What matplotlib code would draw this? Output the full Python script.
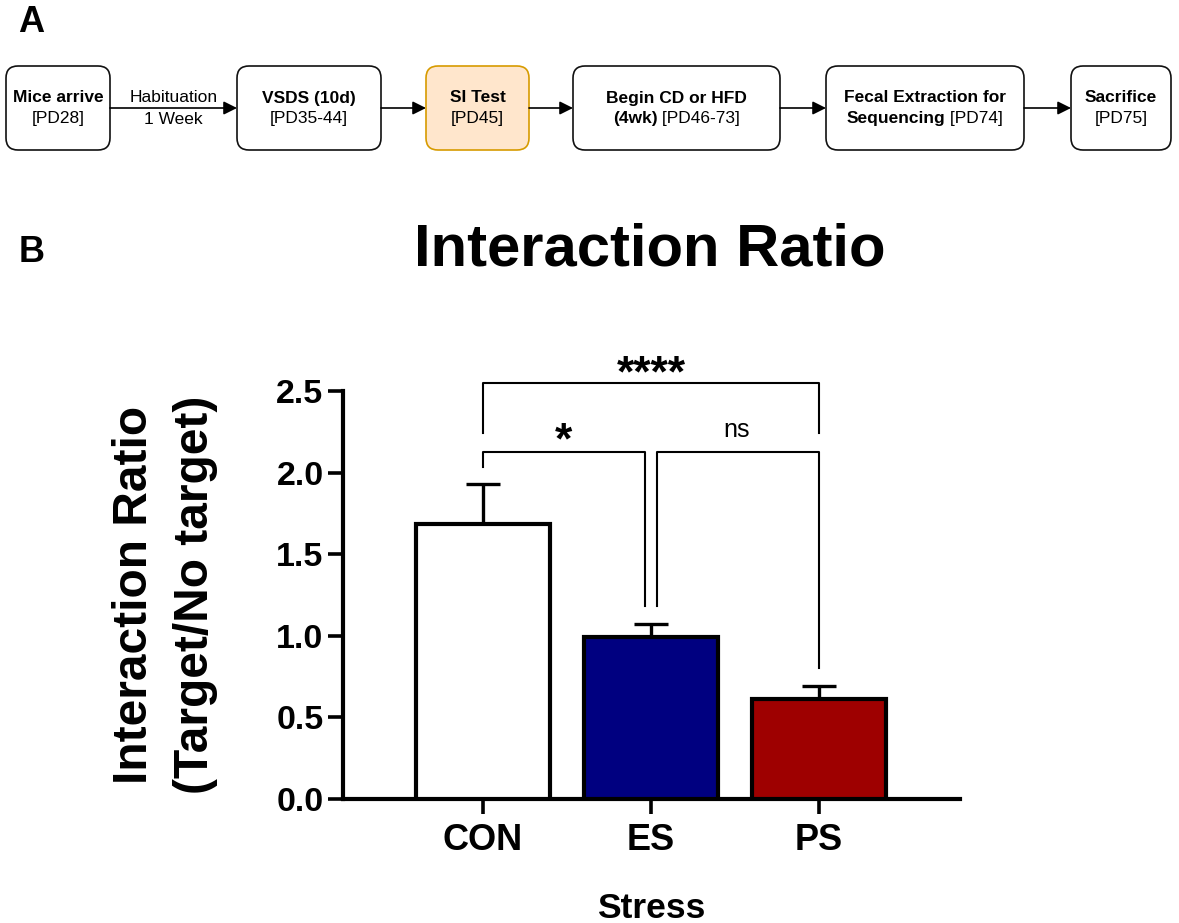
import numpy as np
import matplotlib
matplotlib.use('Agg')
import matplotlib.pyplot as plt
from matplotlib.patches import FancyBboxPatch

plt.rcParams['font.family'] = 'Liberation Sans'

# ---- timeline (panel A) ----
step_bold = ['Mice arrive', 'VSDS (10d)', 'SI Test', 'Begin CD or HFD',
             'Fecal Extraction for', 'Sacrifice']
step_bold2 = ['', '', '', '(4wk)', 'Sequencing', '']
step_plain = ['[PD28]', '[PD35-44]', '[PD45]', ' [PD46-73]', ' [PD74]', '[PD75]']
arrow_label = ['Habituation\n1 Week', '', '', '', '']

# ---- bar data (panel B) ----
groups = ['CON', 'ES', 'PS']
ratio_mean = [1.685, 0.99, 0.61]
ratio_sem = [0.245, 0.085, 0.085]
bar_colors = ['white', '#000080', '#9E0000']

# pairwise comparisons: (i, j, label)
comparisons = [(0, 2, '****'), (0, 1, '*'), (1, 2, 'ns')]

W, H = 1179, 923
fig = plt.figure(figsize=(W/100, H/100), dpi=100)

ax0 = fig.add_axes([0, 0, 1, 1])
ax0.set_xlim(0, W)
ax0.set_ylim(H, 0)
ax0.axis('off')

# box edges in pixel units
box_x = [(6, 110), (237, 381), (426, 529), (573, 780), (826, 1024), (1071, 1171)]
y_top, y_bot = 66, 150
y_mid = (y_top + y_bot) / 2
fs = 12.5
renderer = fig.canvas.get_renderer()

for i, (x0, x1) in enumerate(box_x):
    fc, ec = 'white', '#111111'
    if step_bold[i] == 'SI Test':
        fc, ec = '#FFE6CC', '#D79B00'
    box = FancyBboxPatch((x0, y_top), x1-x0, y_bot-y_top,
                         boxstyle='round,pad=0,rounding_size=12',
                         fc=fc, ec=ec, lw=1.2)
    ax0.add_patch(box)
    xc = (x0 + x1) / 2
    ax0.text(xc, 98, step_bold[i], ha='center', va='center',
             fontsize=fs, fontweight='bold')
    # second line: optional bold part followed by plain part
    tb = ax0.text(0, 119, step_bold2[i], ha='left', va='center',
                  fontsize=fs, fontweight='bold')
    tp = ax0.text(0, 119, step_plain[i], ha='left', va='center', fontsize=fs)
    wb = tb.get_window_extent(renderer).width if step_bold2[i] else 0
    wp = tp.get_window_extent(renderer).width
    start = xc - (wb + wp) / 2
    tb.set_x(start)
    tp.set_x(start + wb)

for i in range(len(box_x) - 1):
    xa = box_x[i][1]
    xb = box_x[i+1][0]
    ax0.annotate('', xy=(xb, y_mid), xytext=(xa, y_mid),
                 arrowprops=dict(arrowstyle='-|>', lw=1.2, color='k',
                                 mutation_scale=20, shrinkA=0, shrinkB=0))
    if arrow_label[i]:
        top, bottom = arrow_label[i].split('\n')
        ax0.text((xa+xb)/2, 97, top, ha='center', va='center', fontsize=fs)
        ax0.text((xa+xb)/2, 119, bottom, ha='center', va='center', fontsize=fs)

ax0.text(31, 22, 'A', ha='center', va='center', fontsize=26, fontweight='bold')
ax0.text(32, 252, 'B', ha='center', va='center', fontsize=26, fontweight='bold')
ax0.text(650, 250, 'Interaction Ratio', ha='center', va='center',
         fontsize=43, fontweight='bold')

# ---- bar chart ----
ax = fig.add_axes([343/W, 1-799/H, (960-343)/W, (799-391)/H])
ax.patch.set_alpha(0)
x = np.arange(len(groups))
ax.bar(x, ratio_mean, width=0.8, color=bar_colors, edgecolor='k',
       linewidth=3, zorder=3)
ax.errorbar(x, ratio_mean, yerr=[np.zeros(len(groups)), ratio_sem], fmt='none',
            ecolor='k', elinewidth=2.4, capsize=12, capthick=2.4, zorder=2)

ax.set_xlim(-0.833, 2.84)
ax.set_ylim(0, 2.5)
ax.set_yticks(np.arange(0, 2.51, 0.5))
ax.set_yticklabels(['%.1f' % v for v in np.arange(0, 2.51, 0.5)],
                   fontsize=24.5, fontweight='bold')
ax.set_xticks(x)
ax.set_xticklabels(groups, fontsize=26, fontweight='bold')
ax.tick_params(axis='y', length=11, width=2.6, pad=3)
ax.tick_params(axis='x', length=11, width=2.6, pad=6)
for s in ['top', 'right']:
    ax.spines[s].set_visible(False)
for s in ['left', 'bottom']:
    ax.spines[s].set_linewidth(3)

ax.set_xlabel('Stress', fontsize=25.5, fontweight='bold', labelpad=25)
ax.set_ylabel('Interaction Ratio\n(Target/No target)', fontsize=34.5,
              fontweight='bold', labelpad=42, linespacing=1.45)

# significance brackets
bk = dict(color='k', lw=1.5, clip_on=False, zorder=4)
dx = 0.036
# CON vs PS
ax.plot([0, 0, 2, 2], [2.243, 2.549, 2.549, 2.243], **bk)
ax.text(1, 2.53, comparisons[0][2], ha='center', va='baseline', fontsize=32,
        fontweight='bold', clip_on=False)
# CON vs ES
ax.plot([0, 0, 1-dx, 1-dx], [2.034, 2.126, 2.126, 1.183], **bk)
ax.text(0.48, 2.12, comparisons[1][2], ha='center', va='baseline', fontsize=32,
        fontweight='bold', clip_on=False)
# ES vs PS
ax.plot([1+dx, 1+dx, 2, 2], [1.183, 2.126, 2.126, 0.803], **bk)
ax.text(1.51, 2.221, comparisons[2][2], ha='center', va='baseline', fontsize=18,
        clip_on=False)

fig.savefig('out.png', dpi=100)
